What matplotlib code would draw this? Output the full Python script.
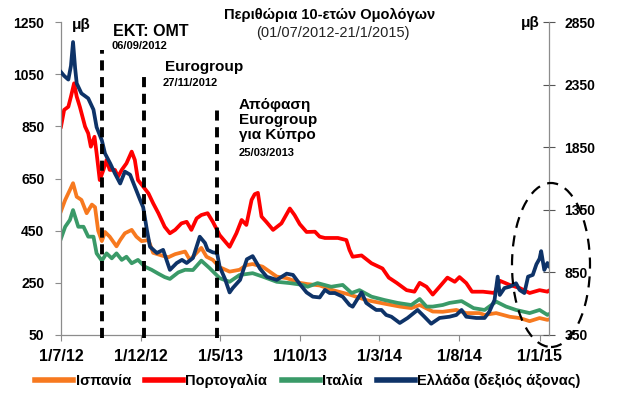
import datetime as dt
import matplotlib
matplotlib.use("Agg")
import matplotlib.pyplot as plt
from matplotlib.patches import Ellipse
from matplotlib.lines import Line2D

plt.rcParams['font.family'] = ['Liberation Sans', 'DejaVu Sans']

START = dt.date(2012, 7, 1)
END_DAY = 932

# ---------------- data (days since 1/7/2012, spreads in bp) ----------------
gr_days = [0, 6, 14, 19, 23, 27, 30, 39, 52, 62, 68, 78, 84, 94, 103, 113, 122, 132, 141, 151,
           157, 164, 170, 183, 195, 208, 221, 231, 240, 252, 265, 275, 280, 290, 298, 303, 313, 322, 328, 342,
           355, 366, 380, 393, 412, 431, 443, 456, 469, 481, 494, 504, 513, 523, 538, 551, 557, 574, 583, 593,
           602, 612, 621, 631, 647, 662, 681, 694, 707, 723, 742, 755, 765, 774, 793, 809, 818, 828, 834, 838,
           847, 857, 869, 876, 885, 892, 901, 908, 914, 917, 923, 929, 932]
gr_vals = [2450, 2420, 2390, 2500, 2690, 2480, 2360, 2280, 2240, 2150, 2010, 1905, 1800, 1720, 1640, 1560, 1655, 1630, 1535, 1430,
           1370, 1190, 1055, 1005, 1030, 870, 925, 950, 925, 965, 1135, 1085, 1030, 1010, 1005, 895, 800, 690, 725, 790,
           955, 980, 880, 815, 790, 840, 830, 757, 690, 656, 650, 710, 685, 685, 656, 590, 576, 690, 606, 576,
           550, 550, 510, 496, 446, 486, 550, 496, 440, 486, 496, 510, 550, 496, 486, 486, 536, 630, 816, 670,
           725, 736, 763, 709, 685, 816, 830, 915, 960, 1020, 870, 925, 900]

pt_days = [0, 6, 14, 19, 25, 30, 36, 46, 52, 57, 64, 68, 74, 81, 87, 93, 103, 109, 116, 125,
           135, 141, 147, 157, 167, 176, 186, 198, 208, 218, 230, 240, 249, 259, 268, 280, 290, 303, 322, 335,
           345, 354, 364, 370, 376, 383, 392, 405, 421, 437, 446, 456, 469, 485, 494, 504, 529, 545, 551, 557,
           574, 593, 614, 626, 641, 660, 675, 685, 698, 710, 723, 738, 752, 761, 774, 785, 806, 828, 838, 857,
           876, 895, 914, 929, 932]
pt_vals = [849, 913, 925, 964, 1015, 964, 925, 849, 823, 772, 810, 747, 644, 683, 721, 683, 683, 657, 683, 708,
           753, 721, 644, 619, 593, 555, 517, 465, 440, 453, 478, 484, 453, 497, 510, 517, 484, 433, 388, 440,
           491, 472, 568, 590, 595, 504, 484, 453, 478, 535, 510, 475, 445, 446, 427, 422, 422, 414, 376, 350,
           355, 325, 305, 270, 250, 222, 216, 250, 235, 205, 235, 270, 254, 272, 249, 216, 216, 211, 258, 242,
           230, 211, 222, 216, 220]

es_days = [0, 8, 17, 23, 30, 39, 49, 59, 65, 71, 78, 84, 93, 106, 113, 122, 135, 144, 154, 167,
           176, 192, 205, 218, 237, 246, 252, 268, 278, 290, 303, 322, 341, 354, 366, 385, 412, 431, 456, 471,
           494, 519, 551, 583, 618, 647, 669, 685, 710, 729, 755, 774, 799, 809, 831, 857, 876, 895, 914, 929,
           932]
es_vals = [525, 568, 606, 632, 580, 568, 517, 550, 540, 450, 410, 445, 427, 390, 414, 440, 453, 427, 410, 414,
           365, 355, 348, 360, 370, 338, 350, 384, 350, 338, 310, 293, 300, 318, 322, 312, 274, 268, 250, 245,
           240, 222, 205, 184, 170, 159, 153, 165, 140, 139, 146, 134, 134, 127, 134, 120, 115, 103, 115, 108,
           110]

it_days = [0, 8, 17, 23, 33, 43, 52, 62, 68, 78, 87, 97, 106, 116, 125, 135, 147, 160, 173, 186,
           198, 208, 224, 237, 252, 268, 284, 303, 322, 341, 366, 385, 412, 437, 462, 471, 490, 516, 538, 555,
           570, 593, 618, 643, 669, 685, 698, 710, 729, 742, 765, 788, 809, 831, 850, 869, 895, 914, 929, 932]
it_vals = [420, 465, 491, 529, 465, 465, 427, 427, 363, 335, 363, 344, 363, 338, 350, 325, 338, 312, 300, 285,
           272, 265, 290, 300, 299, 335, 306, 268, 254, 280, 287, 274, 254, 249, 242, 235, 249, 235, 242, 211,
           222, 197, 184, 173, 165, 188, 159, 159, 165, 173, 180, 153, 146, 178, 159, 146, 134, 146, 127, 130]

series_labels = ['Ισπανία', 'Πορτογαλία', 'Ιταλία', 'Ελλάδα (δεξιός άξονας)']
series_colors = ['#F7791F', '#FF0000', '#3A9A68', '#0E3368']

left_ticks = [50, 250, 450, 650, 850, 1050, 1250]
right_ticks = [350, 850, 1350, 1850, 2350, 2850]
x_tick_dates = ['2012-07-01', '2012-12-01', '2013-05-01', '2013-10-01', '2014-03-01', '2014-08-01', '2015-01-01']
x_tick_labels = ['1/7/12', '1/12/12', '1/5/13', '1/10/13', '1/3/14', '1/8/14', '1/1/15']

# events (drawn positions of the dashed markers)
event_line_dates = ['2012-09-17', '2012-12-06', '2013-04-25']
event_line_tops = [0.911, 0.831, 0.728]


def to_dates(days):
    return [START + dt.timedelta(days=int(d)) for d in days]


def parse(s):
    return dt.date.fromisoformat(s)


W, H = 619, 399
fig = plt.figure(figsize=(W / 100, H / 100), dpi=100)
ax = fig.add_axes([61 / W, 1 - 335 / H, 488 / W, 313 / H])
ax2 = ax.twinx()

lw = 2.7
ax.plot(to_dates(es_days), es_vals, color=series_colors[0], lw=lw, solid_joinstyle='round')
ax.plot(to_dates(pt_days), pt_vals, color=series_colors[1], lw=lw, solid_joinstyle='round')
ax.plot(to_dates(it_days), it_vals, color=series_colors[2], lw=lw, solid_joinstyle='round')
ax2.plot(to_dates(gr_days), gr_vals, color=series_colors[3], lw=lw, solid_joinstyle='round')

ax.set_ylim(left_ticks[0], left_ticks[-1])
ax2.set_ylim(right_ticks[0], right_ticks[-1])
ax.set_xlim(START, START + dt.timedelta(days=END_DAY))

ax.set_yticks(left_ticks)
ax.set_yticklabels([str(v) for v in left_ticks], fontweight='bold')
ax2.set_yticks(right_ticks)
ax2.set_yticklabels([str(v) for v in right_ticks], fontweight='bold')
ax.set_xticks([parse(d) for d in x_tick_dates])
ax.set_xticklabels(x_tick_labels, fontweight='bold')

gray = '#8C8C8C'
for s in ['top', 'right']:
    ax.spines[s].set_visible(False)
for s in ['left', 'bottom']:
    ax.spines[s].set_color(gray)
    ax.spines[s].set_linewidth(0.9)
for s in ['top', 'left', 'bottom']:
    ax2.spines[s].set_visible(False)
ax2.spines['right'].set_color(gray)
ax2.spines['right'].set_linewidth(0.9)

ax.tick_params(axis='x', direction='out', length=4, color=gray, labelsize=11.5, pad=6)
ax.tick_params(axis='y', direction='out', length=4, color=gray, labelsize=10, pad=8)
ax2.tick_params(axis='y', direction='inout', length=8, color='#555555', labelsize=10, pad=7)

# event dashed lines
for d, top in zip(event_line_dates, event_line_tops):
    ax2.plot([parse(d), parse(d)], [-0.01, top], transform=ax2.get_xaxis_transform(),
             color='black', lw=2.8, linestyle=(0, (2.6, 1.7)), clip_on=False, zorder=5)

# ellipse highlight
ell = Ellipse((551 / W, 1 - 265 / H), 78 / W, 164 / H, transform=fig.transFigure,
              fill=False, edgecolor='black', lw=1.6, linestyle=(0, (5, 3.5)))
fig.add_artist(ell)

# texts
fig.text(330 / W, 1 - 15 / H, 'Περιθώρια 10-ετών Ομολόγων', ha='center', va='center',
         fontsize=10.5, fontweight='bold')
fig.text(333 / W, 1 - 33 / H, '(01/07/2012-21/1/2015)', ha='center', va='center',
         fontsize=10.5, color='#222222')
fig.text(72 / W, 1 - 25 / H, 'μβ', ha='left', va='center', fontsize=11, fontweight='bold')
fig.text(540 / W, 1 - 23 / H, 'μβ', ha='right', va='center', fontsize=11, fontweight='bold')

fig.text(113 / W, 1 - 31 / H, 'ΕΚΤ: ΟΜΤ', ha='left', va='center', fontsize=11.5, fontweight='bold')
fig.text(112 / W, 1 - 46 / H, '06/09/2012', ha='left', va='center', fontsize=8, fontweight='bold')
fig.text(165 / W, 1 - 67.5 / H, 'Eurogroup', ha='left', va='center', fontsize=11, fontweight='bold')
fig.text(163 / W, 1 - 82.5 / H, '27/11/2012', ha='left', va='center', fontsize=8, fontweight='bold')
fig.text(239 / W, 1 - 105 / H, 'Απόφαση', ha='left', va='center', fontsize=11, fontweight='bold')
fig.text(239 / W, 1 - 120 / H, 'Eurogroup', ha='left', va='center', fontsize=11, fontweight='bold')
fig.text(239 / W, 1 - 135 / H, 'για Κύπρο', ha='left', va='center', fontsize=11, fontweight='bold')
fig.text(239 / W, 1 - 153 / H, '25/03/2013', ha='left', va='center', fontsize=8, fontweight='bold')

handles = [Line2D([0], [0], color=c, lw=4) for c in series_colors]
fig.legend(handles, series_labels, loc='center', bbox_to_anchor=(308 / W, 1 - 381 / H), ncol=4,
           frameon=False, handlelength=2.6, handletextpad=0.15, columnspacing=1.0,
           prop={'weight': 'bold', 'size': 10.5})

fig.savefig('out.png', dpi=100)
